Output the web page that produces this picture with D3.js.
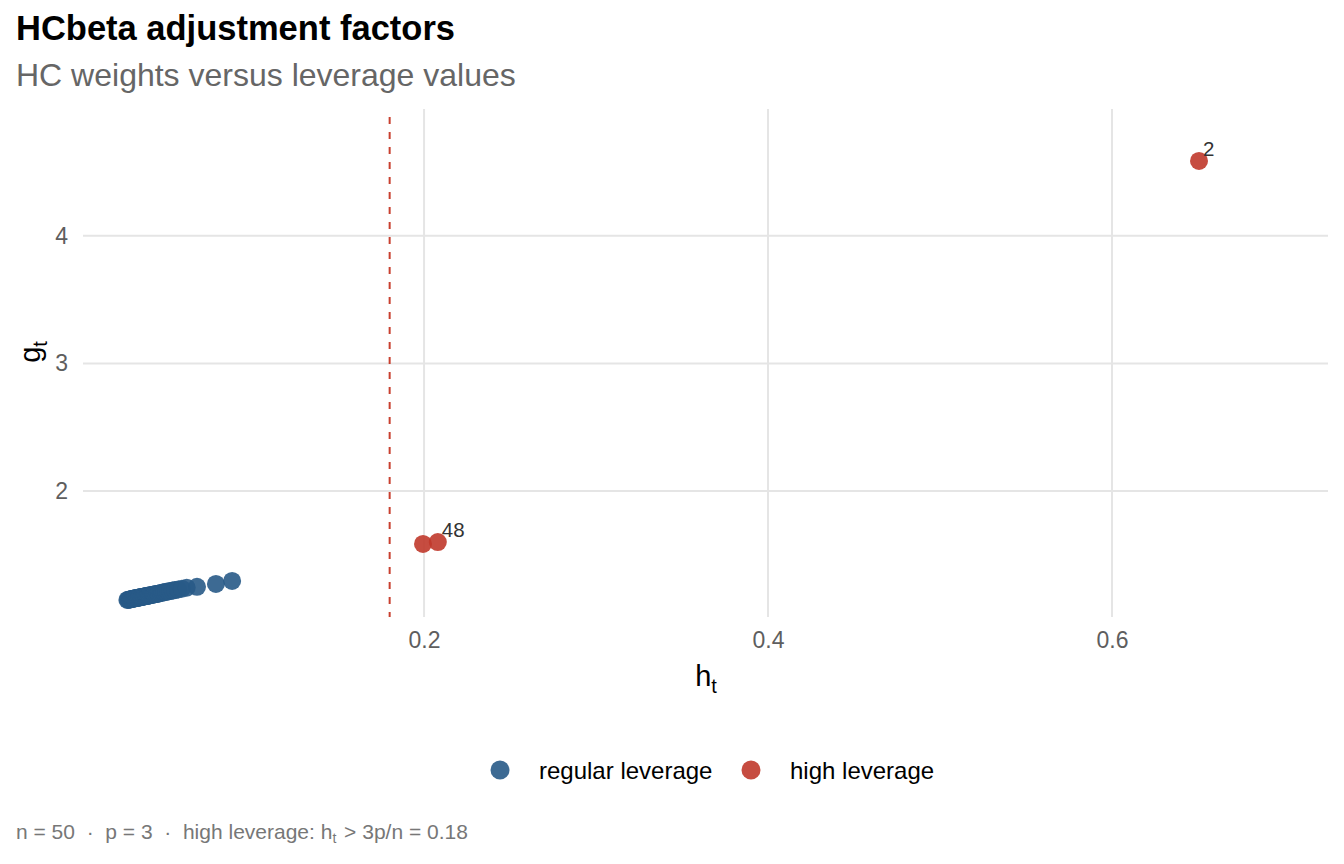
<!DOCTYPE html>
<html>
<head>
<meta charset="utf-8">
<script src="https://cdn.jsdelivr.net/npm/d3@7"></script>
<style>
  body { margin: 0; background: #fff; }
  svg { display: block; font-family: "Liberation Sans", Arial, Helvetica, sans-serif; }
  text { white-space: pre; }
</style>
</head>
<body>
<svg id="chart" width="1344" height="864"></svg>
<script>
// ---- data ----
const hRegular = [0.0275,0.0280,0.0285,0.0290,0.0295,0.0300,0.0305,0.0310,0.0315,0.0320,0.0325,0.0330,0.0335,0.0340,0.0345,0.0350,0.0355,0.0360,0.0366,0.0372,0.0378,0.0384,0.0390,0.0396,0.0402,0.0408,0.0415,0.0422,0.0429,0.0436,0.0444,0.0452,0.0460,0.0470,0.0480,0.0490,0.0500,0.0512,0.0524,0.0538,0.0552,0.0570,0.0592,0.0620,0.0680,0.0790,0.0884];
const gRegular = [1.148,1.149,1.150,1.152,1.153,1.155,1.156,1.157,1.159,1.160,1.162,1.163,1.164,1.166,1.167,1.169,1.170,1.171,1.173,1.175,1.176,1.178,1.180,1.181,1.183,1.185,1.187,1.189,1.191,1.193,1.195,1.197,1.199,1.202,1.205,1.208,1.211,1.214,1.217,1.221,1.225,1.230,1.236,1.244,1.250,1.273,1.296];
const hHigh = [0.1994, 0.2080, 0.6506];
const gHigh = [1.586, 1.601, 4.585];
const highLabels = ["", "48", "2"];
const threshold = 0.18;
const xTicks = [0.2, 0.4, 0.6];
const yTicks = [2, 3, 4];
const groups = ["regular leverage", "high leverage"];
const colors = ["#285A87", "#C0392B"];

// ---- layout ----
const svg = d3.select("#chart");
const FONT = "Liberation Sans, Arial, sans-serif";
const panel = { left: 83, right: 1328, top: 109, bottom: 617 };
const x = d3.scaleLinear().domain([0.0017, 0.7256]).range([panel.left, panel.right]);
const y = d3.scaleLinear().domain([1.014, 4.992]).range([panel.bottom, panel.top]);

// gridlines
const grid = svg.append("g");
grid.selectAll("line.gx").data(xTicks).join("line")
  .attr("x1", d => x(d)).attr("x2", d => x(d))
  .attr("y1", panel.top).attr("y2", panel.bottom)
  .attr("stroke", "#e5e5e5").attr("stroke-width", 2);
grid.selectAll("line.gy").data(yTicks).join("line")
  .attr("y1", d => y(d)).attr("y2", d => y(d))
  .attr("x1", panel.left).attr("x2", panel.right)
  .attr("stroke", "#e5e5e5").attr("stroke-width", 2);

// axes (text only)
const xAxis = d3.axisBottom(x).tickValues(xTicks).tickSize(0).tickPadding(15).tickFormat(d3.format(".1f"));
const gx = svg.append("g").attr("transform", `translate(0,${panel.bottom})`).call(xAxis);
gx.select(".domain").remove();
gx.attr("font-size", 23).attr("font-family", FONT);
gx.selectAll("text").attr("fill", "#5e5e5e");

const yAxis = d3.axisLeft(y).tickValues(yTicks).tickSize(0).tickPadding(15).tickFormat(d3.format("d"));
const gy = svg.append("g").attr("transform", `translate(${panel.left},0)`).call(yAxis);
gy.select(".domain").remove();
gy.attr("font-size", 23).attr("font-family", FONT);
gy.selectAll("text").attr("fill", "#5e5e5e");

// threshold line
svg.append("line")
  .attr("x1", x(threshold)).attr("x2", x(threshold))
  .attr("y1", panel.top + 8).attr("y2", panel.bottom)
  .attr("stroke", "#C8402F").attr("stroke-width", 2)
  .attr("stroke-dasharray", "7,8");

// points
const regular = hRegular.map((h, i) => ({ h, g: gRegular[i] }));
const high = hHigh.map((h, i) => ({ h, g: gHigh[i], label: highLabels[i] }));

svg.append("g").selectAll("circle").data(regular).join("circle")
  .attr("cx", d => x(d.h)).attr("cy", d => y(d.g)).attr("r", 9)
  .attr("fill", colors[0]).attr("fill-opacity", 0.9);
svg.append("g").selectAll("circle").data(high).join("circle")
  .attr("cx", d => x(d.h)).attr("cy", d => y(d.g)).attr("r", 9)
  .attr("fill", colors[1]).attr("fill-opacity", 0.9);
svg.append("g").selectAll("text").data(high.filter(d => d.label)).join("text")
  .attr("x", d => x(d.h) + 4).attr("y", d => y(d.g) - 5)
  .attr("font-size", 20.5).attr("fill", "#333")
  .text(d => d.label);

// titles
svg.append("text").attr("x", 16).attr("y", 40).attr("font-size", 34.5).attr("font-weight", "bold")
  .attr("fill", "#000").text("HCbeta adjustment factors");
svg.append("text").attr("x", 16).attr("y", 86).attr("font-size", 32)
  .attr("fill", "#666").text("HC weights versus leverage values");

// axis titles
const xt = svg.append("text").attr("x", 706).attr("y", 686).attr("text-anchor", "middle")
  .attr("font-size", 29).attr("fill", "#000");
xt.append("tspan").text("h");
xt.append("tspan").attr("font-size", 20).attr("dy", 7).text("t");

const yt = svg.append("text").attr("transform", "translate(40,352) rotate(-90)").attr("text-anchor", "middle")
  .attr("font-size", 29).attr("fill", "#000");
yt.append("tspan").text("g");
yt.append("tspan").attr("font-size", 20).attr("dy", 7).text("t");

// legend
const legendX = [500, 751];
const leg = svg.append("g");
groups.forEach((g, i) => {
  leg.append("circle").attr("cx", legendX[i]).attr("cy", 770).attr("r", 9.5)
    .attr("fill", colors[i]).attr("fill-opacity", 0.9);
  leg.append("text").attr("x", legendX[i] + 39).attr("y", 779).attr("font-size", 24)
    .attr("fill", "#000").text(g);
});

// caption
const cap = svg.append("text").attr("x", 16).attr("y", 839).attr("font-size", 21).attr("fill", "#777");
cap.append("tspan").text("n = 50  \u00B7  p = 3  \u00B7  high leverage: h");
cap.append("tspan").attr("font-size", 14).attr("dy", 4).text("t");
cap.append("tspan").attr("dy", -4).attr("dx", 2).text(" > 3p/n = 0.18");
</script>
</body>
</html>
